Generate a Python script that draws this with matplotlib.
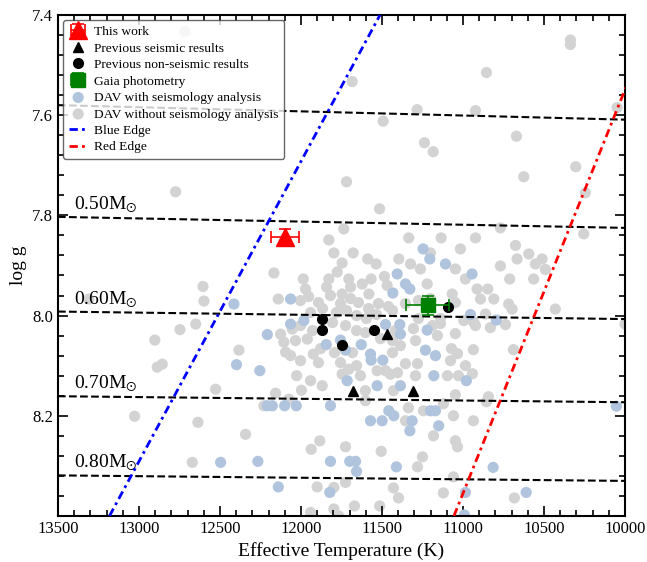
import numpy as np
import matplotlib
matplotlib.use('Agg')
import matplotlib.pyplot as plt
from matplotlib.ticker import MultipleLocator, FormatStrFormatter

# DAV without seismology analysis (grey)
gray_teff = [12716, 11684, 10337, 10337, 10855, 11283, 10923, 11493, 10049, 11238,
             11184, 10670, 11719, 10304, 10625, 10245, 12774, 11515, 11736, 10769,
             10255, 11828, 11335, 11135, 10923, 11797, 11678, 11746, 11588, 11536,
             11396, 11201, 11016, 10676, 10594, 11324, 10666, 10512, 10553, 10491,
             11263, 11047, 10769, 10712, 10564, 10985, 11221, 11067, 10913, 10847,
             10892, 10810, 10718, 10697, 10430, 10000, 10861, 10738, 10995, 10934,
             12167, 11986, 11972, 11828, 11776, 11842, 11705, 11694, 11746, 11622,
             11567, 11581, 11485, 11468, 12140, 12003, 11953, 11892, 11818, 11756,
             11694, 11645, 11583, 11522, 11460, 11941, 11867, 11781, 11719, 11657,
             11596, 11534, 12003, 11929, 11805, 11725, 11657, 11602, 11509, 11435,
             11961, 11879, 11793, 11682, 11435, 11417, 12003, 11892, 11756, 11657,
             11478, 11435, 11355, 11275, 11201, 11275, 11188, 11047, 11139, 11306,
             11293, 11158, 11139, 11047, 10923, 10831, 11386, 11355, 11281, 11404,
             11293, 11071, 11034, 10936, 11077, 10985, 11096, 11028, 10942, 10689,
             11429, 11047, 10843, 10855, 11337, 11244, 11121, 11059, 10936, 11355,
             11182, 11047, 11034, 11250, 11281, 11059, 11429, 11398, 11121, 10683,
             12126, 12054, 12106, 12034, 12095, 12064, 11924, 12383, 12027, 11941,
             11869, 12157, 11997, 11746, 11705, 11633, 11530, 11602, 11602, 11448,
             12229, 12075, 12342, 11937, 11884, 11725, 11505, 11900, 11797, 11725,
             11670, 11514, 11941, 11797, 11767, 12902, 12887, 12856, 12527, 13027,
             12636, 12671, 12605, 12599, 13309, 12747, 12650]
gray_logg = [7.433, 7.533, 7.450, 7.459, 7.515, 7.589, 7.591, 7.612, 7.585, 7.655,
             7.673, 7.642, 7.733, 7.703, 7.723, 7.755, 7.753, 7.787, 7.827, 7.825,
             7.837, 7.849, 7.845, 7.845, 7.845, 7.875, 7.875, 7.895, 7.887, 7.897,
             7.887, 7.875, 7.867, 7.860, 7.877, 7.897, 7.887, 7.887, 7.897, 7.908,
             7.907, 7.907, 7.901, 7.927, 7.927, 7.927, 7.937, 7.957, 7.947, 7.947,
             7.967, 7.967, 7.977, 7.987, 7.987, 8.017, 7.997, 8.018, 8.010, 8.013,
             7.915, 7.927, 7.947, 7.927, 7.913, 7.943, 7.927, 7.943, 7.957, 7.937,
             7.927, 7.957, 7.922, 7.940, 7.967, 7.970, 7.962, 7.974, 7.960, 7.976,
             7.966, 7.974, 7.986, 7.976, 7.982, 7.994, 7.986, 7.994, 7.990, 8.000,
             8.006, 7.998, 8.020, 8.030, 8.014, 8.020, 8.030, 8.034, 8.046, 8.050,
             8.047, 8.066, 8.074, 8.074, 8.074, 8.030, 8.090, 8.094, 8.094, 8.100,
             8.110, 7.990, 7.976, 7.970, 7.966, 8.006, 8.020, 7.974, 8.006, 8.026,
             8.050, 8.040, 8.016, 8.036, 8.020, 8.024, 8.060, 8.096, 8.096, 8.114,
             8.120, 8.066, 8.076, 8.068, 8.090, 8.100, 8.120, 8.120, 8.116, 8.068,
             8.150, 8.158, 8.162, 8.172, 8.184, 8.190, 8.176, 8.200, 8.210, 8.210,
             8.240, 8.250, 8.262, 8.282, 8.302, 8.322, 8.344, 8.364, 8.354, 8.364,
             8.037, 8.027, 8.053, 8.050, 8.073, 8.080, 8.077, 8.069, 8.120, 8.130,
             8.140, 8.155, 8.149, 8.117, 8.107, 8.120, 8.110, 8.150, 8.170, 8.117,
             8.180, 8.167, 8.237, 8.267, 8.250, 8.262, 8.271, 8.342, 8.343, 8.333,
             8.380, 8.380, 8.393, 8.386, 8.400, 8.049, 8.103, 8.097, 8.147, 8.201,
             8.213, 8.293, 7.942, 7.971, 7.967, 8.028, 8.017]

# DAV with seismology analysis (light blue)
blue_teff = [11406, 11433, 12064, 12414, 12064, 11982, 11478, 11246, 11205, 11108,
             10944, 11355, 11328, 10954, 10794, 11390, 10053, 10814, 10610, 10985,
             10991, 10979, 11180, 11170, 11232, 11221, 11386, 11386, 11427, 11201,
             11170, 11314, 11328, 11150, 11411, 12208, 12398, 12254, 11844, 11756,
             11725, 11628, 11571, 11567, 11495, 11715, 11530, 12208, 12177, 12101,
             12029, 11818, 11571, 11499, 11458, 12266, 11818, 11699, 11663, 11657,
             12140, 11822, 12496]
blue_logg = [7.917, 7.955, 7.967, 7.977, 8.017, 8.010, 8.018, 7.867, 7.887, 7.897,
             7.917, 7.937, 7.947, 7.998, 8.009, 8.018, 8.181, 8.303, 8.353, 8.353,
             8.398, 8.130, 8.120, 8.080, 8.069, 8.029, 8.037, 8.140, 8.200, 8.190,
             8.190, 8.210, 8.230, 8.220, 8.302, 8.038, 8.098, 8.110, 8.058, 8.049,
             8.069, 8.058, 8.077, 8.089, 8.089, 8.130, 8.140, 8.180, 8.180, 8.180,
             8.180, 8.180, 8.210, 8.210, 8.190, 8.291, 8.291, 8.291, 8.291, 8.311,
             8.342, 8.353, 8.293]

# previous results
seis_teff = [11468, 11678, 11308]
seis_logg = [8.037, 8.150, 8.151]
nonseis_teff = [11092, 11869, 11869, 11551, 11744]
nonseis_logg = [7.983, 8.007, 8.028, 8.029, 8.058]

# this work and Gaia
this_teff, this_logg, this_terr, this_gerr = 12100, 7.843, 85, 0.015
gaia_teff, gaia_logg, gaia_terr, gaia_gerr = 11219, 7.979, 131, 0.019

# mass tracks (logg at 13500 K and at 10000 K)
mass_labels = ['', '0.50', '0.60', '0.70', '0.80']
mass_teff = [13500, 10000]
mass_logg_hot = [7.580, 7.803, 7.992, 8.161, 8.319]
mass_logg_cool = [7.609, 7.825, 8.007, 8.173, 8.330]

# instability strip edges
edge_logg = [8.4, 7.4]
blue_edge_teff = [13182, 11512]
red_edge_teff = [11056, 9815]

plt.rcParams['font.family'] = 'serif'
plt.rcParams['font.serif'] = ['Liberation Serif', 'DejaVu Serif']
plt.rcParams['mathtext.fontset'] = 'stix'

fig = plt.figure(figsize=(6.47, 5.62), dpi=100)
ax = fig.add_axes([0.0896, 0.0819, 0.8764, 0.8915])

for k in range(len(mass_labels)):
    ax.plot(mass_teff, [mass_logg_hot[k], mass_logg_cool[k]], 'k--', lw=1.5, zorder=3)
    if mass_labels[k]:
        ax.text(13400, mass_logg_hot[k] - 0.004, mass_labels[k] + r'M$_{\odot}$',
                fontsize=14, ha='left', va='bottom', zorder=3)

h_gray = ax.scatter(gray_teff, gray_logg, s=65, c='lightgray', edgecolors='none', zorder=1)
h_blue = ax.scatter(blue_teff, blue_logg, s=65, c='lightsteelblue', edgecolors='none', zorder=2)

h_be, = ax.plot(blue_edge_teff, edge_logg, color='blue', lw=2, ls=(0, (3, 1.5, 1, 1.5)), zorder=3)
h_re, = ax.plot(red_edge_teff, edge_logg, color='red', lw=2, ls=(0, (3, 1.5, 1, 1.5)), zorder=3)

h_seis, = ax.plot(seis_teff, seis_logg, 'k^', ms=7, ls='none', zorder=4)
h_nonseis, = ax.plot(nonseis_teff, nonseis_logg, 'ko', ms=7, ls='none', zorder=4)

h_this = ax.errorbar(this_teff, this_logg, xerr=this_terr, yerr=this_gerr, fmt='^', color='red',
                     ms=13, capsize=4, elinewidth=1.2, capthick=1.2, zorder=5)
h_gaia = ax.errorbar(gaia_teff, gaia_logg, xerr=gaia_terr, yerr=gaia_gerr, fmt='s', color='green',
                     ms=10, capsize=4, elinewidth=1.2, capthick=1.2, zorder=5)

ax.legend([h_this, h_seis, h_nonseis, h_gaia, h_blue, h_gray, h_be, h_re],
          ['This work', 'Previous seismic results', 'Previous non-seismic results',
           'Gaia photometry', 'DAV with seismology analysis', 'DAV without seismology analysis',
           'Blue Edge', 'Red Edge'],
          loc='upper left', fontsize=9.7, handlelength=1.4, handletextpad=0.5,
          labelspacing=0.3, borderpad=0.4, borderaxespad=0.4, edgecolor='0.25')

ax.set_xlim(13500, 10000)
ax.set_ylim(8.4, 7.4)
ax.xaxis.set_major_locator(MultipleLocator(500))
ax.xaxis.set_minor_locator(MultipleLocator(100))
ax.xaxis.set_major_formatter(FormatStrFormatter('%d'))
ax.set_yticks([7.4, 7.6, 7.8, 8.0, 8.2])
ax.yaxis.set_minor_locator(MultipleLocator(0.04))
ax.tick_params(which='both', direction='in', top=True, right=True, width=1.2, labelsize=12)
ax.tick_params(which='major', length=7)
ax.tick_params(which='minor', length=4)
for sp in ax.spines.values():
    sp.set_linewidth(1.5)

ax.set_xlabel('Effective Temperature (K)', fontsize=14)
ax.set_ylabel('log g', fontsize=14)

fig.savefig('out.png', dpi=100)
